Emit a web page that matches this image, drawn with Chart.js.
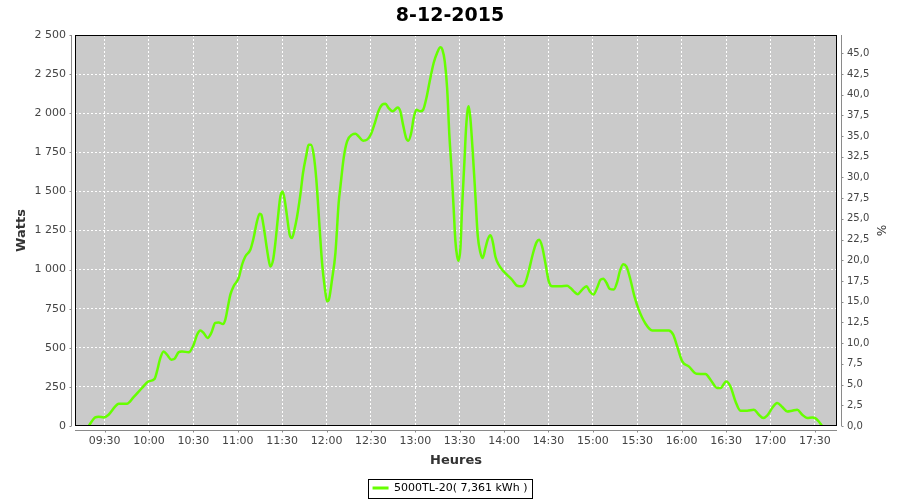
<!DOCTYPE html>
<html>
<head>
<meta charset="utf-8">
<script src="https://cdn.jsdelivr.net/npm/chart.js@4.4.1/dist/chart.umd.min.js"></script>
<style>
  html, body { margin: 0; padding: 0; background: #fff; }
  #wrap { width: 900px; height: 500px; }
</style>
</head>
<body>
<div id="wrap"><canvas id="chart" width="900" height="500"></canvas></div>
<script>
// power curve for the day
// times = minutes since midnight, watts = inverter output
const times = [559.2,563.7,565.9,569.3,572.7,577.2,579.5,585.1,589.6,595.3,
  599.7,603.8,605.4,607.7,609.9,612.2,615.1,617.1,620.0,622.3,
  626.8,630.2,632.5,634.7,636.9,639.6,642.1,644.8,647.1,650.0,
  651.6,653.4,655.0,657.2,660.6,662.9,665.1,668.5,670.7,673.0,
  674.8,675.9,677.5,679.3,680.9,682.0,683.9,685.4,687.0,688.8,
  690.3,691.7,693.3,695.1,696.7,698.3,700.1,702.3,704.1,706.4,
  707.9,709.5,711.3,713.1,715.4,717.0,718.7,720.4,721.7,723.7,
  726.0,728.2,729.4,731.6,733.9,737.3,739.5,741.7,744.7,747.4,
  750.1,753.0,755.2,757.5,759.8,762.0,764.7,768.1,769.9,771.7,
  773.8,775.3,777.2,778.9,780.7,783.4,785.3,787.5,789.7,792.4,
  794.7,797.0,798.3,799.9,801.5,803.0,804.4,805.9,807.1,808.3,
  809.3,810.5,811.6,813.2,814.3,815.4,816.1,817.2,818.8,820.6,
  822.2,824.0,825.6,827.4,828.9,830.8,832.3,834.1,836.4,838.7,
  842.0,845.4,848.8,852.2,854.4,856.6,859.6,861.9,863.7,865.7,
  867.9,870.2,872.5,878.1,882.6,884.9,887.1,889.8,892.8,895.7,
  897.9,900.4,902.9,905.1,907.0,909.2,911.4,914.1,916.6,918.2,
  920.5,922.7,925.4,928.1,931.0,935.6,940.1,951.3,954.3,957.0,
  960.4,964.8,970.0,976.1,979.5,984.0,986.3,990.1,993.0,996.4,
  999.8,1004.3,1008.8,1012.2,1015.1,1017.8,1021.2,1024.6,1028.0,1031.4,
  1034.7,1038.1,1041.5,1044.9,1048.3,1050.5,1052.7,1055.0];

const watts = [0,55,59,55,72,125,143,143,185,243,
  285,301,349,435,477,456,424,428,471,477,
  471,520,584,611,595,563,595,659,662,652,
  680,765,840,893,946,1031,1084,1127,1202,1308,
  1357,1351,1276,1159,1063,1020,1063,1170,1319,1468,
  1500,1447,1340,1223,1202,1255,1340,1479,1618,1735,
  1799,1799,1735,1575,1255,1042,893,797,812,935,
  1106,1426,1532,1714,1820,1863,1869,1852,1824,1831,
  1867,1948,2016,2054,2061,2033,2012,2037,2012,1927,
  1841,1824,1873,1969,2022,2012,2022,2097,2203,2321,
  2385,2421,2406,2331,2161,1863,1650,1394,1180,1084,
  1057,1138,1394,1692,1905,2022,2044,1969,1754,1473,
  1217,1108,1074,1138,1191,1219,1180,1084,1031,999,
  967,935,897,893,918,989,1106,1174,1191,1148,
  1042,925,893,893,897,882,861,843,872,893,
  861,840,884,935,942,916,876,872,926,989,
  1035,1020,935,829,744,654,611,611,584,509,
  413,381,334,332,296,243,243,285,253,157,
  98,98,104,72,51,66,115,147,121,93,
  98,104,72,51,55,49,29,0];

const xTickLabels = ['09:30','10:00','10:30','11:00','11:30','12:00','12:30','13:00','13:30',
  '14:00','14:30','15:00','15:30','16:00','16:30','17:00','17:30'];

const seriesName = '5000TL-20( 7,361 kWh )';
const chartTitle = '8-12-2015';

const FONT = '"DejaVu Sans", sans-serif';
const GREEN = '#66ff00';
const AXIS_GRAY = '#8a8a8a';

// chart area box we are aiming for
const AREA = { left: 75, top: 35, right: 837, bottom: 426 };

function toMinutes(hhmm) {
  const p = hhmm.split(':');
  return parseInt(p[0]) * 60 + parseInt(p[1]);
}
function fmtTime(m) {
  const h = Math.floor(m / 60), mm = Math.round(m % 60);
  return String(h).padStart(2, '0') + ':' + String(mm).padStart(2, '0');
}
function fmtThousands(v) {
  return String(Math.round(v)).replace(/\B(?=(\d{3})+(?!\d))/g, ' ');
}

/** plot background, outline, offset axis lines and legend frame */
const plotDecor = {
  id: 'plotDecor',
  beforeDraw(chart) {
    const { ctx, chartArea: a } = chart;
    ctx.save();
    ctx.fillStyle = '#cacaca';
    ctx.fillRect(a.left, a.top, a.right - a.left, a.bottom - a.top);
    ctx.restore();
  },
  afterDraw(chart) {
    const { ctx, chartArea: a, scales } = chart;
    ctx.save();
    // plot outline
    ctx.strokeStyle = '#000';
    ctx.lineWidth = 1;
    ctx.strokeRect(a.left + 0.5, a.top + 0.5, a.right - a.left - 1, a.bottom - a.top - 1);

    ctx.strokeStyle = AXIS_GRAY;
    ctx.beginPath();
    // left axis
    const lx = a.left - 3.5;
    ctx.moveTo(lx, a.top); ctx.lineTo(lx, a.bottom);
    scales.y.ticks.forEach(t => {
      const py = Math.round(scales.y.getPixelForValue(t.value)) + 0.5;
      ctx.moveTo(lx - 2, py); ctx.lineTo(lx, py);
    });
    // right axis
    const rx = a.right + 4.5;
    ctx.moveTo(rx, a.top); ctx.lineTo(rx, a.bottom);
    scales.y1.ticks.forEach(t => {
      const py = Math.round(scales.y1.getPixelForValue(t.value)) + 0.5;
      ctx.moveTo(rx, py); ctx.lineTo(rx + 2, py);
    });
    // bottom axis
    const by = a.bottom + 4.5;
    ctx.moveTo(a.left, by); ctx.lineTo(a.right, by);
    scales.x.ticks.forEach(t => {
      const px = Math.round(scales.x.getPixelForValue(t.value)) + 0.5;
      ctx.moveTo(px, by); ctx.lineTo(px, by + 2);
    });
    ctx.stroke();

    // frame around the legend entry
    const hb = chart.legend.legendHitBoxes && chart.legend.legendHitBoxes[0];
    if (hb) {
      ctx.strokeStyle = '#000';
      ctx.strokeRect(Math.round(hb.left - 5) + 0.5, Math.round(hb.top - 4) + 0.5,
        Math.round(hb.width + 9), Math.round(hb.height + 8));
    }
    ctx.restore();
  }
};

const ctx = document.getElementById('chart').getContext('2d');
new Chart(ctx, {
  type: 'line',
  data: {
    datasets: [{
      label: seriesName,
      data: times.map((t, i) => ({ x: t, y: watts[i] })),
      borderColor: GREEN,
      backgroundColor: GREEN,
      borderWidth: 2.5,
      pointRadius: 0,
      cubicInterpolationMode: 'monotone',
      yAxisID: 'y'
    }]
  },
  options: {
    responsive: false,
    animation: false,
    events: [],
    layout: { padding: 0 },
    plugins: {
      title: {
        display: true,
        text: chartTitle,
        color: '#000',
        font: { family: FONT, size: 19, weight: 'bold' },
        padding: { top: 5, bottom: 7.2 }
      },
      legend: {
        position: 'bottom',
        maxHeight: 27.5,
        labels: {
          font: { family: FONT, size: 11 },
          color: '#222',
          boxWidth: 16,
          boxHeight: 3,
          padding: 10,
          generateLabels: () => [{
            text: seriesName, fillStyle: GREEN, strokeStyle: GREEN, lineWidth: 0, datasetIndex: 0
          }]
        }
      },
      tooltip: { enabled: false }
    },
    scales: {
      x: {
        type: 'linear',
        min: 550,
        max: 1065,
        afterBuildTicks: s => { s.ticks = xTickLabels.map(l => ({ value: toMinutes(l) })); },
        afterFit: s => { s.height = 500 - AREA.bottom - s.chart.legend.height; },
        ticks: {
          autoSkip: false, maxRotation: 0, padding: 9,
          color: '#444', font: { family: FONT, size: 11 },
          callback: v => fmtTime(v)
        },
        grid: { color: '#ffffff', lineWidth: 1, drawTicks: false },
        border: { display: false, dash: [2, 2] },
        title: {
          display: true, text: 'Heures', color: '#333',
          font: { family: FONT, size: 13, weight: 'bold' },
          padding: { top: 0, bottom: 4.5 }
        }
      },
      y: {
        position: 'left',
        min: 0,
        max: 2500,
        afterFit: s => { s.width = AREA.left; },
        ticks: {
          stepSize: 250, padding: 9,
          color: '#444', font: { family: FONT, size: 11 },
          callback: v => fmtThousands(v)
        },
        grid: { color: '#ffffff', lineWidth: 1, drawTicks: false },
        border: { display: false, dash: [2, 2] },
        title: {
          display: true, text: 'Watts', color: '#333',
          font: { family: FONT, size: 13, weight: 'bold' },
          padding: { top: 14, bottom: 0 }
        }
      },
      y1: {
        position: 'right',
        min: 0,
        max: 47.2,
        afterFit: s => { s.width = 900 - AREA.right; },
        ticks: {
          stepSize: 2.5, includeBounds: false, padding: 10,
          color: '#444', font: { family: FONT, size: 10 },
          callback: v => v.toFixed(1).replace('.', ',')
        },
        grid: { drawOnChartArea: false, drawTicks: false },
        border: { display: false },
        title: {
          display: true, text: '%', color: '#333',
          font: { family: FONT, size: 12 },
          padding: { top: 13, bottom: 0 }
        }
      }
    }
  },
  plugins: [plotDecor]
});
</script>
</body>
</html>
